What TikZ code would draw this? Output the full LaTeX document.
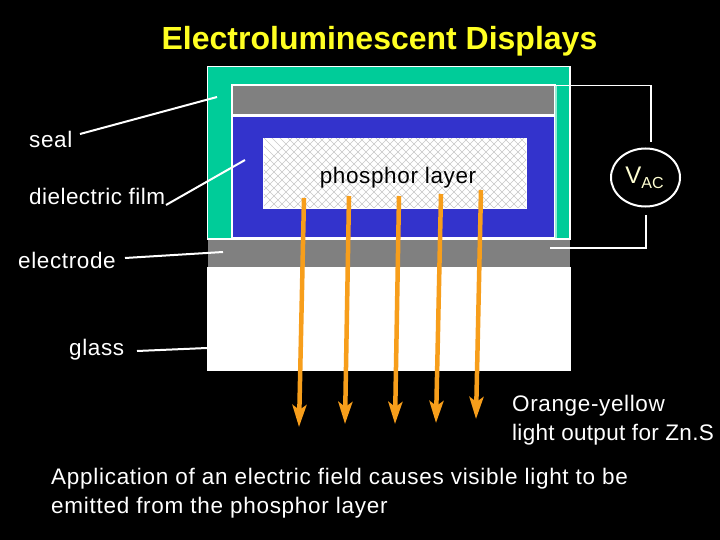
\documentclass[tikz,border=0pt]{standalone}
\usepackage{fontspec}
\setmainfont{Liberation Sans}
\usetikzlibrary{arrows.meta,shapes.geometric}
\definecolor{teal1}{HTML}{00CC99}
\definecolor{gray1}{HTML}{808080}
\definecolor{blue1}{HTML}{3333CC}
\definecolor{orange1}{HTML}{F79E1B}
\definecolor{title1}{HTML}{FFFF22}
\newcommand{\spc}[1]{\addfontfeature{LetterSpace=#1}}
\tikzset{x=1pt,y=-1pt,
 lbl/.style={text=white,font=\fontsize{22.5}{26}\selectfont\spc{2.8},inner sep=0pt,anchor=base west},
 leader/.style={draw=white,line width=2pt},
 wire/.style={draw=white,line width=1.8pt},
 ray/.style={draw=orange1,line width=4.5pt,-{Stealth[length=22pt,width=14pt,inset=5pt]}},
 layer/.style={draw=white,line width=1.5pt}
}
\begin{document}
\begin{tikzpicture}
\useasboundingbox (0,0) rectangle (720,540);
\fill[black] (0,0) rectangle (720,540);
\filldraw[layer,fill=teal1] (207.5,66.5) rectangle (570,239);
\filldraw[layer,fill=gray1] (232,85) rectangle (555,115);
\filldraw[layer,fill=blue1] (232,116) rectangle (555,238);
\fill[white] (263,138) rectangle (527,209);
\begin{scope}
\clip (264,139) rectangle (526,208);
\foreach \k in {0,8,...,420}{
 \draw[black!22,line width=.4pt] (200+\k,130) -- (300+\k,230);
 \draw[black!22,line width=.4pt] (200+\k,230) -- (300+\k,130);
}
\end{scope}
\fill[gray1] (208,240) rectangle (569.5,267);
\draw[white,line width=2pt] (207,239) -- (570,239);
\fill[white] (207,267) rectangle (571,371);
\node[inner sep=0pt,font=\bfseries\fontsize{32}{36}\selectfont,text=title1,anchor=base] (title) at (379.5,50) {Electroluminescent Displays};
\node[lbl] (seal) at (29,148) {seal};
\node[lbl,font=\fontsize{22.5}{26}\selectfont\spc{2.0}] (film) at (29,205) {dielectric film};
\node[lbl] (electrode) at (18,268) {electrode};
\node[lbl] (glass) at (69,355) {glass};
\node[lbl,text=black,anchor=base] (phos) at (398,184) {phosphor layer};
\coordinate (sealA) at (80,134); \coordinate (sealB) at (217,97);
\coordinate (filmA) at (166,205); \coordinate (filmB) at (245,160);
\coordinate (elA) at (125,258); \coordinate (elB) at (223,252);
\coordinate (glA) at (137,351); \coordinate (glB) at (207,348);
\draw[leader] (sealA) -- (sealB);
\draw[leader] (filmA) -- (filmB);
\draw[leader] (elA) -- (elB);
\draw[leader] (glA) -- (glB);
\node[draw=white,line width=2pt,ellipse,minimum width=69pt,minimum height=58pt,inner sep=0pt,text=title1!20!white,font=\fontsize{24}{26}\selectfont] (vac) at (645.5,177.5) {\hspace{-2pt}V\raisebox{-5pt}{\fontsize{16}{17}\selectfont AC}};
\coordinate (w1) at (550,85.5); \coordinate (w2) at (651,85.5); \coordinate (w3) at (651,142);
\coordinate (w4) at (646,215); \coordinate (w5) at (646,248); \coordinate (w6) at (550,248);
\draw[wire] (w1) -- (w2) -- (w3);
\draw[wire] (w4) -- (w5) -- (w6);
\draw[draw=teal1!40!white,line width=1.5pt] (556,86) -- (556,238);
\foreach \n/\xa/\ya/\xb/\yb in {a/304/198/299/427,b/349/196/345/424,c/399/196/395/424,d/441/194/436/423,e/481/190/476/419}{
 \coordinate (s\n) at (\xa,\ya); \coordinate (t\n) at (\xb,\yb);
 \draw[ray] (s\n) -- (t\n);
}
\node[lbl] (out1) at (512,411) {Orange-yellow};
\node[lbl,font=\fontsize{22.5}{26}\selectfont\spc{1.4}] (out2) at (512,440) {light output for Zn.S};
\node[lbl,font=\fontsize{22.5}{26}\selectfont\spc{3.2}] (app1) at (51,484) {Application of an electric field causes visible light to be};
\node[lbl,font=\fontsize{22.5}{26}\selectfont\spc{3.2}] (app2) at (51,513) {emitted from the phosphor layer};
\end{tikzpicture}
\end{document}
